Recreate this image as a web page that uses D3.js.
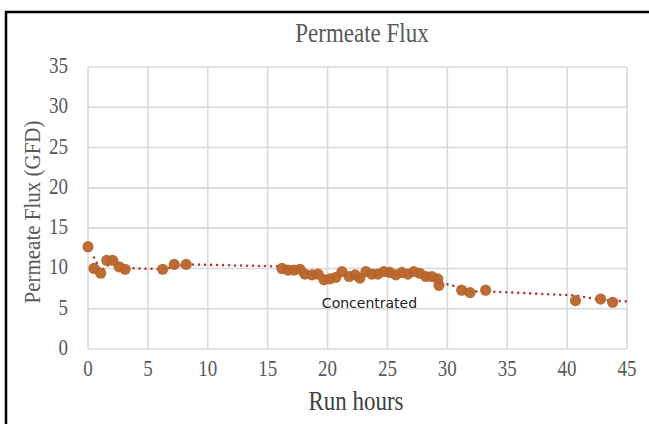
<!DOCTYPE html>
<html><head><meta charset="utf-8">
<script src="https://cdn.jsdelivr.net/npm/d3@7/dist/d3.min.js"></script>
<style>html,body{margin:0;padding:0;background:#fff;}svg{display:block;}</style>
</head><body>
<script>
const runHours = [0, 0.5, 1.06, 1.56, 2.06, 2.6, 3.1, 6.24, 7.2, 8.2,
  16.2, 16.7, 17.2, 17.7, 18.1, 18.7, 19.2, 19.7, 20.2, 20.7, 21.2, 21.8, 22.3, 22.7,
  23.2, 23.7, 24.2, 24.7, 25.2, 25.7, 26.2, 26.7, 27.2, 27.7, 28.2, 28.7, 29.2, 29.3,
  31.2, 31.9, 33.2, 40.7, 42.8, 43.8];
const fluxGFD = [12.7, 10.0, 9.4, 11.0, 11.0, 10.2, 9.9, 9.9, 10.5, 10.5,
  10.0, 9.8, 9.8, 9.9, 9.3, 9.2, 9.3, 8.6, 8.7, 8.9, 9.6, 9.0, 9.2, 8.8,
  9.6, 9.3, 9.3, 9.6, 9.5, 9.2, 9.5, 9.3, 9.6, 9.4, 9.0, 9.0, 8.7, 7.9,
  7.3, 7.0, 7.3, 6.0, 6.2, 5.8];
const trendHours = [0.5, 1.06, 1.56, 2.06, 2.6, 3.1, 6.24, 7.2, 8.2,
  16.2, 16.7, 17.2, 17.7, 18.1, 18.7, 19.2, 19.7, 20.2, 20.7, 21.2, 21.8, 22.3, 22.7,
  23.2, 23.7, 24.2, 24.7, 25.2, 25.7, 26.2, 26.7, 27.2, 27.7, 28.2, 28.7, 29.2, 29.3,
  31.2, 31.9, 33.2, 40.7, 42.8, 43.8, 45];
const trendFlux = [11.35, 9.7, 10.2, 11.0, 10.6, 10.05, 9.9, 10.2, 10.5,
  10.25, 9.9, 9.8, 9.85, 9.6, 9.25, 9.25, 8.95, 8.65, 8.8, 9.25, 9.3, 9.1, 9.0,
  9.2, 9.45, 9.3, 9.45, 9.55, 9.35, 9.35, 9.4, 9.45, 9.5, 9.2, 9.0, 8.85, 8.3,
  7.6, 7.15, 7.15, 6.65, 6.1, 6.0, 5.9];
const xTicks = [0, 5, 10, 15, 20, 25, 30, 35, 40, 45];
const yTicks = [0, 5, 10, 15, 20, 25, 30, 35];
const chartTitle = "Permeate Flux";
const xTitle = "Run hours";
const yTitle = "Permeate Flux (GFD)";
const annotation = {text: "Concentrated", x: 23.5, y: 5.2};

const W = 649, H = 424;
const svg = d3.select("body").append("svg").attr("width", W).attr("height", H);
const x = d3.scaleLinear().domain([0, 45]).range([88, 627]);
const y = d3.scaleLinear().domain([0, 35]).range([349, 67]);

// frame
svg.append("line").attr("x1", 6).attr("x2", 6).attr("y1", 11).attr("y2", H).attr("stroke", "#000").attr("stroke-width", 2.5);
svg.append("line").attr("x1", 5).attr("x2", W).attr("y1", 12).attr("y2", 12).attr("stroke", "#000").attr("stroke-width", 2.5);

const grid = "#d9d9d9";
svg.append("g").selectAll("line").data(yTicks).join("line")
  .attr("x1", x(0)).attr("x2", x(45)).attr("y1", d => y(d)).attr("y2", d => y(d))
  .attr("stroke", grid).attr("stroke-width", 1.6);
svg.append("g").selectAll("line").data(xTicks).join("line")
  .attr("x1", d => x(d)).attr("x2", d => x(d)).attr("y1", y(0)).attr("y2", y(35))
  .attr("stroke", grid).attr("stroke-width", 1.6);

function stext(px, py, txt, size, sy, anchor, fill, family, rot) {
  const g = svg.append("g").attr("transform", `translate(${px},${py})` + (rot ? ` rotate(${rot})` : "") + ` scale(1,${sy})`);
  return g.append("text").attr("text-anchor", anchor).attr("font-size", size)
    .attr("font-family", family).attr("fill", fill).text(txt);
}
const serif = "'Liberation Serif', serif";
yTicks.forEach(d => stext(68, y(d) + 6, d, 19, 1.2, "end", "#595959", serif));
xTicks.forEach(d => stext(x(d), 376, d, 19, 1.25, "middle", "#595959", serif));

stext(362, 42, chartTitle, 23, 1.15, "middle", "#595959", serif);
stext(356, 410, xTitle, 23, 1.15, "middle", "#404040", serif);
stext(40, 212, yTitle, 21, 1.1, "middle", "#595959", serif, -90);

// trendline
svg.append("path")
  .attr("d", d3.line().x(d => x(d[0])).y(d => y(d[1]))(trendHours.map((h, i) => [h, trendFlux[i]])))
  .attr("fill", "none").attr("stroke", "#b03a35").attr("stroke-width", 2.6)
  .attr("stroke-dasharray", "0,6").attr("stroke-linecap", "round");

svg.append("g").selectAll("circle").data(runHours.map((h, i) => [h, fluxGFD[i]])).join("circle")
  .attr("cx", d => x(d[0])).attr("cy", d => y(d[1])).attr("r", 5.6)
  .attr("fill", "#b8642a").attr("fill-opacity", 0.95);

svg.append("text").attr("x", x(annotation.x)).attr("y", y(annotation.y) + 1)
  .attr("text-anchor", "middle").attr("font-size", 14)
  .attr("font-family", "'DejaVu Sans', sans-serif").attr("fill", "#222").text(annotation.text);
</script>
</body></html>
